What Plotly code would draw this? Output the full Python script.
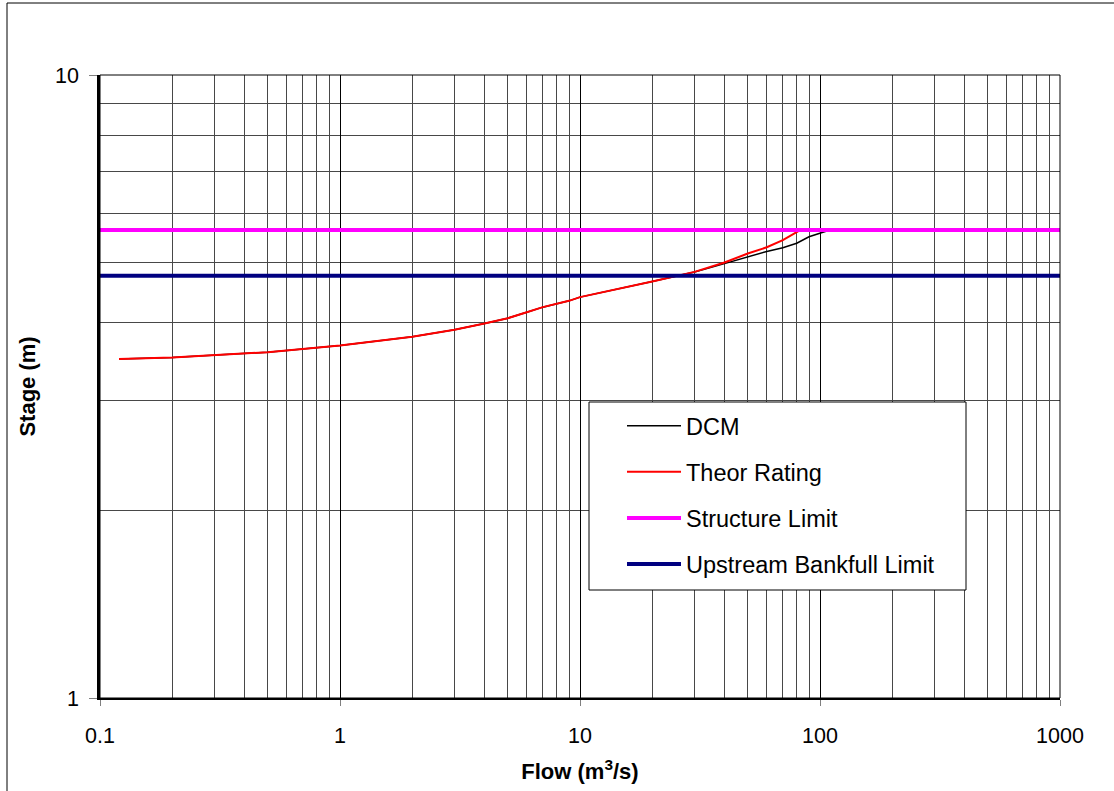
import plotly.graph_objects as go

# Data
theor_flow = [0.12, 0.2, 0.5, 1, 2, 3, 4, 5, 6, 7, 9, 10, 20, 25, 30, 40, 50, 60, 70, 83]
theor_stage = [3.50, 3.52, 3.59, 3.68, 3.80, 3.90, 3.99, 4.07, 4.16, 4.24, 4.34, 4.40, 4.66, 4.76, 4.83, 5.00, 5.17, 5.29, 5.43, 5.64]

dcm_flow = [0.12, 0.2, 0.5, 1, 2, 3, 4, 5, 6, 7, 9, 10, 20, 25, 30, 40, 50, 60, 70, 80, 90, 110]
dcm_stage = [3.50, 3.52, 3.59, 3.68, 3.80, 3.90, 3.99, 4.07, 4.16, 4.24, 4.34, 4.40, 4.66, 4.76, 4.83, 4.98, 5.11, 5.21, 5.28, 5.37, 5.50, 5.64]

limit_flow = [0.1, 1000]
structure_limit = [5.64, 5.64]
bankfull_limit = [4.76, 4.76]

x_major = [0.1, 1, 10, 100, 1000]
x_major_text = ["0.1", "1", "10", "100", "1000"]
y_major = [1, 10]
y_major_text = ["1", "10"]
x_minor = [m * d for d in [0.1, 1, 10, 100] for m in range(2, 10)]
y_minor = [m for m in range(2, 10)]

fig = go.Figure()
fig.add_trace(go.Scatter(x=dcm_flow, y=dcm_stage, mode="lines", name="DCM",
                         line=dict(color="black", width=1.5), legendgroup="a"))
fig.add_trace(go.Scatter(x=theor_flow, y=theor_stage, mode="lines", name="Theor Rating",
                         line=dict(color="#ff0000", width=2), legendgroup="b"))
fig.add_trace(go.Scatter(x=limit_flow, y=structure_limit, mode="lines", name="Structure Limit",
                         line=dict(color="#ff00ff", width=4), legendgroup="c"))
fig.add_trace(go.Scatter(x=limit_flow, y=bankfull_limit, mode="lines", name="Upstream Bankfull Limit",
                         line=dict(color="#000080", width=4), legendgroup="d"))

font = "Liberation Sans, Arial, sans-serif"
L, R, T, B = 100, 54, 75, 93
W, H = 1114, 791
pw, ph = W - L - R, H - T - B


def px(xp):
    return (xp - L) / pw


def py(yp):
    return (H - B - yp) / ph


fig.update_layout(
    width=W, height=H,
    margin=dict(l=L, r=R, t=T, b=B),
    paper_bgcolor="white", plot_bgcolor="white",
    font=dict(family=font, color="black", size=21),
    showlegend=True,
    legend=dict(
        x=px(622), y=py(404), xanchor="left", yanchor="top",
        bgcolor="rgba(0,0,0,0)", borderwidth=0,
        font=dict(size=23.5, family=font), tracegroupgap=12.5, itemwidth=54,
    ),
    xaxis=dict(
        type="log", range=[-1, 3], tickmode="array", tickvals=x_major, ticktext=x_major_text,
        showgrid=True, gridcolor="black", gridwidth=1,
        ticks="outside", ticklen=6, tickcolor="#808080", ticklabelstandoff=11,
        showline=True, linecolor="black", linewidth=2, mirror=False,
        minor=dict(tickmode="array", tickvals=x_minor, showgrid=True, gridcolor="#484848", gridwidth=1, ticks=""),
        title=dict(text="<b>Flow (m<sup>3</sup>/s)</b>", font=dict(size=22, family=font), standoff=17),
        zeroline=False, tickfont=dict(size=21.5),
    ),
    yaxis=dict(
        type="log", range=[0, 1], tickmode="array", tickvals=y_major, ticktext=y_major_text,
        showgrid=True, gridcolor="black", gridwidth=1,
        ticks="outside", ticklen=8, tickcolor="#808080", ticklabelstandoff=6,
        showline=True, linecolor="black", linewidth=2.5, mirror=False,
        minor=dict(tickmode="array", tickvals=y_minor, showgrid=True, gridcolor="#484848", gridwidth=1, ticks=""),
        title=dict(text="<b>Stage (m)</b>", font=dict(size=22, family=font), standoff=14),
        zeroline=False, tickfont=dict(size=21.5),
    ),
    shapes=[
        dict(type="rect", xref="paper", yref="paper",
             x0=px(7), x1=px(1118), y0=py(795), y1=py(3),
             line=dict(color="black", width=1), fillcolor="rgba(0,0,0,0)", layer="below"),
        dict(type="rect", xref="paper", yref="paper", x0=0, x1=1, y0=0, y1=1,
             line=dict(color="black", width=1), fillcolor="rgba(0,0,0,0)"),
        dict(type="rect", xref="paper", yref="paper",
             x0=px(589), x1=px(966), y0=py(590), y1=py(402),
             line=dict(color="black", width=1), fillcolor="white", layer="above"),
    ],
)

fig.write_html("out.html", config={"displayModeBar": False},
               post_script="document.body.style.margin='0';document.body.style.padding='0';")
